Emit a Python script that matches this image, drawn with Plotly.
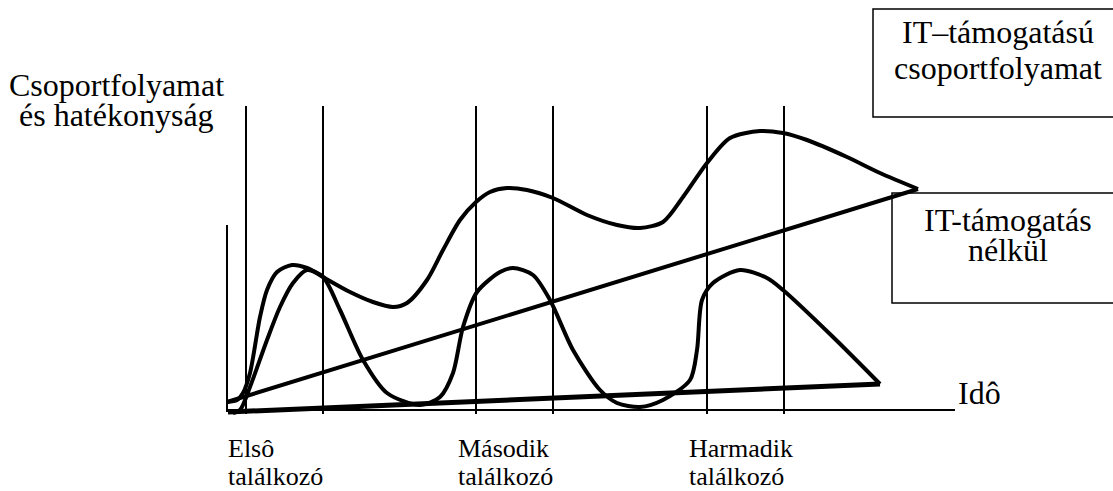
import plotly.graph_objects as go

# ---- data (time units along the horizontal axis, level units upward) ----
it_supported_t = [0, 10, 16, 23, 33, 40, 50, 65, 80, 96, 123, 146, 166, 180, 200, 216, 233, 249, 263, 280,
                  300, 326, 360, 390, 413, 436, 456, 480, 503, 533, 556, 580, 620, 653, 691]
it_supported_v = [8, 10, 17, 37, 93, 120, 138, 145, 142, 133, 118, 108, 103, 107, 130, 160, 190, 208, 218, 222,
                  220, 212, 195, 185, 182, 188, 213, 247, 272, 279, 277, 270, 253, 237, 221]

no_it_t = [6, 13, 23, 40, 53, 66, 80, 96, 113, 136, 160, 193, 213, 226, 236, 250, 273, 286, 306, 323,
           346, 373, 390, 413, 436, 463, 470, 475, 486, 513, 540, 556, 606, 653]
no_it_v = [-3, 0, 23, 70, 103, 127, 140, 133, 100, 50, 17, 5, 13, 37, 83, 118, 138, 142, 135, 110,
           60, 20, 7, 3, 10, 30, 60, 110, 127, 140, 132, 120, 73, 26]

trend_t = [0, 691]
trend_v = [8, 221]

base_t = [1, 653]
base_v = [-2, 26]

meeting_lines_t = [19, 96, 249, 326, 480, 557]
meeting_line_top = 304
meeting_line_bottom = -4

axis_x_end = 728
axis_y_top = 185

meeting_names = ["Elsô", "Második", "Harmadik"]
meeting_label_t = [0, 230, 461]

FONT = "Liberation Serif"

fig = go.Figure()

# vertical meeting lines
for t in meeting_lines_t:
    fig.add_trace(go.Scatter(x=[t, t], y=[meeting_line_bottom, meeting_line_top], mode="lines",
                             line=dict(color="black", width=2), hoverinfo="skip", showlegend=False))

# axes
fig.add_trace(go.Scatter(x=[0, axis_x_end], y=[0, 0], mode="lines",
                         line=dict(color="black", width=2), showlegend=False))
fig.add_trace(go.Scatter(x=[0, 0], y=[-2, axis_y_top], mode="lines",
                         line=dict(color="black", width=2), showlegend=False))

# baseline and trend
fig.add_trace(go.Scatter(x=base_t, y=base_v, mode="lines",
                         line=dict(color="black", width=5), showlegend=False))
fig.add_trace(go.Scatter(x=trend_t, y=trend_v, mode="lines",
                         line=dict(color="black", width=4), showlegend=False))

# curves
fig.add_trace(go.Scatter(x=it_supported_t, y=it_supported_v, mode="lines",
                         line=dict(color="black", width=4, shape="spline", smoothing=0.8), showlegend=False))
fig.add_trace(go.Scatter(x=no_it_t, y=no_it_v, mode="lines",
                         line=dict(color="black", width=4, shape="spline", smoothing=0.8), showlegend=False))

# boxes
fig.add_shape(type="rect", x0=646, x1=890, y0=293, y1=401, line=dict(color="black", width=1.5),
              fillcolor="rgba(0,0,0,0)", layer="below")
fig.add_shape(type="rect", x0=665, x1=890, y0=107, y1=217, line=dict(color="black", width=1.5),
              fillcolor="rgba(0,0,0,0)", layer="below")

big = dict(family=FONT, size=32, color="black")
small = dict(family=FONT, size=26, color="black")

def ann(text, x, y, font, xanchor="center"):
    fig.add_annotation(text=text, x=x, y=y, xref="x", yref="y", showarrow=False,
                       font=font, xanchor=xanchor, yanchor="middle", borderpad=0)

ann("Csoportfolyamat", -111, 325, big)
ann("és hatékonyság", -111, 295, big)
ann("IT–támogatású", 771, 378, big)
ann("csoportfolyamat", 771, 342, big)
ann("IT-támogatás", 781, 190, big)
ann("nélkül", 781, 160, big)
ann("Idô", 730, 17, big, xanchor="left")

for name, t in zip(meeting_names, meeting_label_t):
    ann(name, t, -38, small, xanchor="left")
    ann("találkozó", t, -66, small, xanchor="left")

fig.update_layout(
    width=1113, height=491,
    margin=dict(l=0, r=0, t=0, b=0),
    paper_bgcolor="white", plot_bgcolor="white",
    xaxis=dict(range=[-227, 886], visible=False, fixedrange=True),
    yaxis=dict(range=[-81, 410], visible=False, fixedrange=True),
    showlegend=False,
)

fig.write_html("out.html",
               config={"displayModeBar": False},
               post_script="document.body.style.margin='0';document.body.style.overflow='hidden';")
